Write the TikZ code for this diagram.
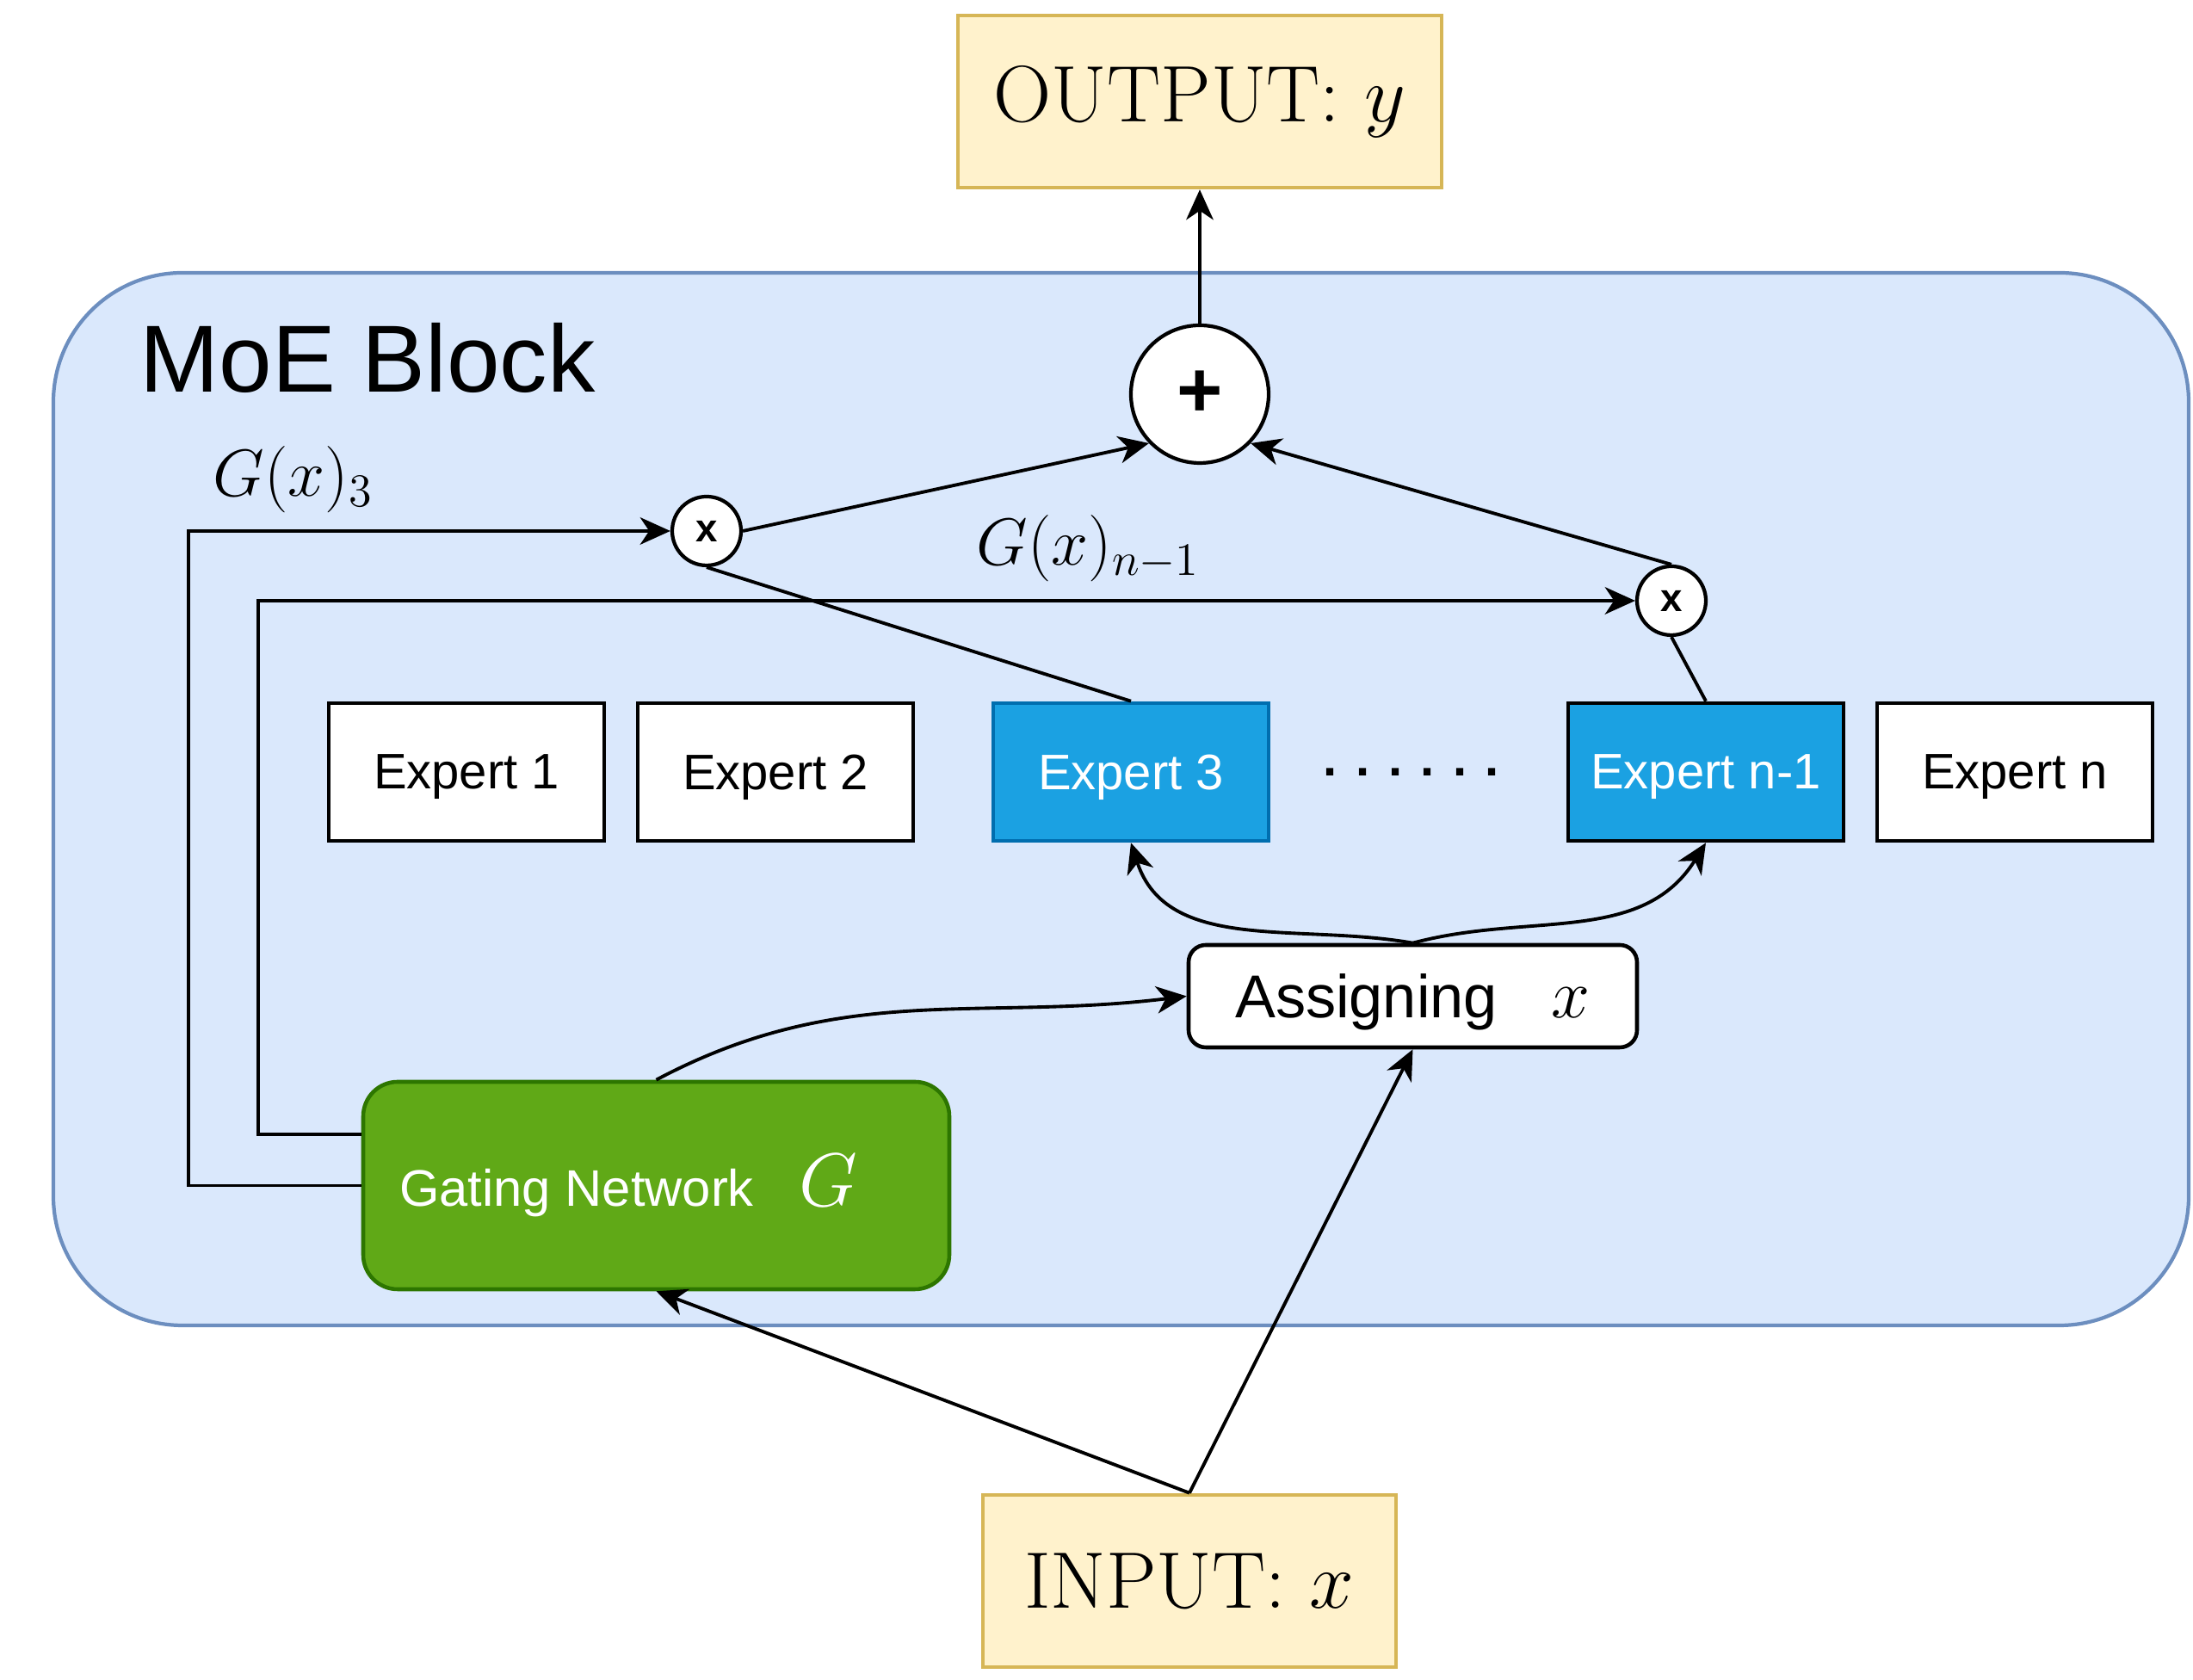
\RequirePackage{fix-cm}
\documentclass[tikz,border=0pt]{standalone}
\usepackage{fontspec}
\newfontfamily\hv{Liberation Sans}
\definecolor{moeFill} {HTML}{DAE8FC}
\definecolor{moeLine} {HTML}{6C8EBF}
\definecolor{ioFill}  {HTML}{FFF2CC}
\definecolor{ioLine}  {HTML}{D6B656}
\definecolor{gateFill}{HTML}{60A917}
\definecolor{gateLine}{HTML}{2D7600}
\definecolor{hotFill} {HTML}{1BA1E2}
\definecolor{hotLine} {HTML}{006EAF}
\usetikzlibrary{
  arrows.meta,
  positioning,
}

\begin{document}
\begin{tikzpicture}[
  >={Stealth[length=10pt, width=9pt, inset=3pt]},
  moe/.style={draw=moeLine, line width=1.2pt, fill=moeFill, rounded corners=1.5cm,
              minimum width=24.81cm, minimum height=12.23cm},
  expert/.style={draw=black, line width=1.3pt, fill=white,
                 minimum width=3.2cm, minimum height=1.6cm, text depth=0pt,
                 font=\hv\fontsize{16.5}{20}\selectfont},
  hot/.style={expert, draw=hotLine, fill=hotFill, text=white},
  hotdark/.style={expert, fill=hotFill, text=white},
  io/.style={draw=ioLine, line width=1.3pt, fill=ioFill,
             minimum height=2.0cm, font=\fontsize{26.5}{31}\selectfont},
  gatebox/.style={draw=gateLine, line width=1.3pt, fill=gateFill, text=white,
                  rounded corners=0.4cm, minimum width=6.81cm, minimum height=2.41cm,
                  font=\hv\fontsize{17}{20}\selectfont},
  assign/.style={draw=black, line width=1.3pt, fill=white, rounded corners=0.2cm,
                 minimum width=5.21cm, minimum height=1.19cm, text depth=0pt,
                 font=\hv\fontsize{20}{24}\selectfont},
  mul/.style={circle, draw=black, line width=1.2pt, fill=white, inner sep=0pt,
              minimum size=0.8cm, font=\hv\bfseries\fontsize{13}{15}\selectfont},
  sum/.style={circle, draw=black, line width=1.2pt, fill=white, inner sep=0pt,
              minimum size=1.6cm, font=\hv\bfseries\fontsize{26}{30}\selectfont},
  lbl/.style={anchor=base west, inner sep=0pt, font=\fontsize{22}{26}\selectfont},
  flow/.style={->, line width=1.1pt},
  wire/.style={line width=1.1pt},
]
  \useasboundingbox (0,0) rectangle (25.48,19.52);

  % the MoE block frame and its title
  \node[moe] (moe) at (13.025,10.235) {};
  \node[anchor=base west, inner sep=0pt, font=\hv\fontsize{31.5}{36}\selectfont]
       (ttl) at (1.62,14.96) {MoE Block};

  % input / output
  \node[io, minimum width=5.62cm] (out) at (13.94,18.34) {OUTPUT: $y$};
  \node[io, minimum width=4.80cm] (inp) at (13.82, 1.15) {INPUT: $x$};

  % row of experts
  \node[expert]  (e1)   at ( 5.42,10.55) {Expert 1};
  \node[expert]  (e2)   at ( 9.01,10.55) {Expert 2};
  \node[hot]     (e3)   at (13.14,10.55) {Expert 3};
  \node[expert, draw=none, fill=none, font=\hv\bfseries\fontsize{16.5}{20}\selectfont]
       (dots) at (16.40,10.55) {. . . . . .};
  \node[hotdark] (en1)  at (19.82,10.55) {Expert n-1};
  \node[expert]  (en)   at (23.41,10.55) {Expert n};

  % router side
  \node[assign]  (asg)  at (16.415,7.945) {Assigning\hspace{0.63cm}{\fontsize{23}{28}\selectfont$x$}};
  \node[gatebox] (gate) at ( 7.625,5.745) {Gating Network\hspace{0.53cm}{\fontsize{25}{30}\selectfont$G$}\hspace{0.64cm}\null};

  % weighting and sum
  \node[sum] (plus) at (13.94,14.94) {+};
  \node[mul] (mul3) at ( 8.21,13.35) {x};
  \node[mul] (muln) at (19.42,12.54) {x};

  \node[lbl] (g3) at ( 2.47,13.75) {$G(x)_3$};
  \node[lbl] (gn) at (11.34,12.95) {$G(x)_{n-1}$};

  % connectors
  \draw[flow] (plus) -- (out);
  \draw[flow] (mul3.east) -- (plus.224);
  \draw[flow] (muln.north) -- (plus.-44);
  \draw[wire] (e3.north) -- (mul3.south);
  \draw[wire] (en1.north) -- (muln.south);
  \draw[flow] (gate.west) -- ++(-2.01,0) |- (mul3.west);
  \draw[flow] ([yshift=5.95mm]gate.west) -- ++(-1.2,0) |- (muln.west);
  \draw[flow] (gate.north) to[out=28, in=187] (asg.west);
  \draw[flow] (asg.north) to[out=170, in=-72] (e3.south);
  \draw[flow] (asg.north) to[out=15, in=-122] (en1.south);
  \draw[flow] (inp.north) -- (gate.south);
  \draw[flow] (inp.north) -- (asg.south);
\end{tikzpicture}
\end{document}
